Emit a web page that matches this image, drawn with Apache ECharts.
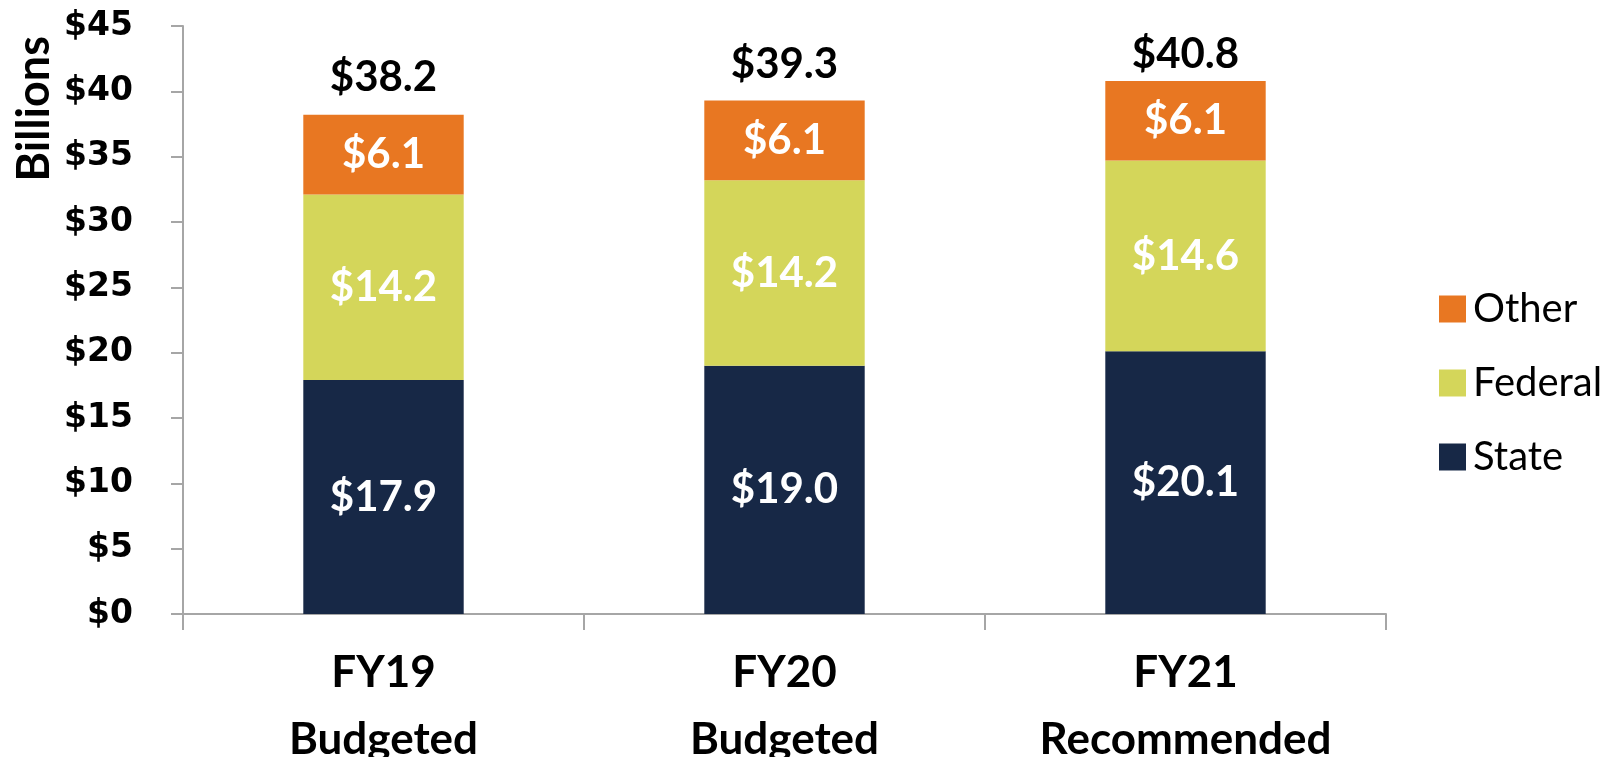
<!DOCTYPE html>
<html><head><meta charset="utf-8">
<script src="https://cdn.jsdelivr.net/npm/echarts@6/dist/echarts.min.js"></script>
<style>html,body{margin:0;padding:0;background:#fff}#c{width:1624px;height:757px}</style>
</head><body><div id="c"></div>
<script>
const categories = ['FY19\nBudgeted', 'FY20\nBudgeted', 'FY21\nRecommended'];
const stateValues = [17.9, 19.0, 20.1];
const federalValues = [14.2, 14.2, 14.6];
const otherValues = [6.1, 6.1, 6.1];
const totalValues = [38.2, 39.3, 40.8];
const yTicks = [0, 5, 10, 15, 20, 25, 30, 35, 40, 45];

const chart = echarts.init(document.getElementById('c'));
const segLabel = {
  show: true, position: 'inside', color: '#fff', fontFamily: 'Lato', fontWeight: 'bold', fontSize: 42,
  formatter: p => '$' + p.value.toFixed(1)
};
const totalDistances = [16, 15, 5];
chart.setOption({
  animation: false,
  grid: { left: 183, right: 238, top: 26, bottom: 143, outerBoundsMode: 'none', containLabel: false },
  legend: {
    orient: 'vertical', left: 1434, top: 284, itemWidth: 27, itemHeight: 27, itemGap: 34,
    data: ['Other', 'Federal', 'State'], icon: 'rect',
    textStyle: { fontFamily: 'Lato', fontSize: 40, color: '#000', lineHeight: 40, padding: [0, 0, 0, 2] }
  },
  graphic: [{
    type: 'text', left: 12, top: 36,
    style: { text: 'Billions', font: 'bold 45px Lato', fill: '#000' },
    rotation: Math.PI / 2
  }],
  xAxis: {
    type: 'category', data: categories,
    axisLine: { lineStyle: { color: '#a6a6a6', width: 2 } },
    axisTick: { show: true, length: 16, lineStyle: { color: '#a6a6a6', width: 2 } },
    axisLabel: { fontFamily: 'Lato', fontWeight: 'bold', fontSize: 44, color: '#000', lineHeight: 67, margin: 25 }
  },
  yAxis: {
    type: 'value', min: 0, max: 45, interval: 5,
    axisLine: { show: true, lineStyle: { color: '#a6a6a6', width: 2 } },
    axisTick: { show: true, inside: false, length: 12, lineStyle: { color: '#a6a6a6', width: 2 } },
    splitLine: { show: false },
    axisLabel: { fontFamily: 'DejaVu Sans', fontWeight: 'bold', fontSize: 33, color: '#000', margin: 50,
      formatter: v => yTicks.includes(v) ? '$' + v : '' }
  },
  series: [
    { name: 'State', type: 'bar', stack: 't', barWidth: '40%', data: stateValues, itemStyle: { color: '#172846' }, label: segLabel },
    { name: 'Federal', type: 'bar', stack: 't', data: federalValues, itemStyle: { color: '#d4d65a' }, label: segLabel },
    { name: 'Other', type: 'bar', stack: 't', data: otherValues, itemStyle: { color: '#e87722' }, label: segLabel },
    { name: 'Total', type: 'line',
      data: totalValues.map((v, i) => ({ value: v, label: { distance: totalDistances[i] } })),
      symbol: 'circle', symbolSize: 1, showSymbol: true, itemStyle: { color: 'rgba(0,0,0,0)' },
      lineStyle: { width: 0, color: 'rgba(0,0,0,0)' }, silent: true, z: 5,
      label: { show: true, position: 'top', color: '#000', fontFamily: 'Lato', fontWeight: 'bold', fontSize: 42,
        formatter: p => '$' + p.value.toFixed(1) } }
  ]
});
</script></body></html>
